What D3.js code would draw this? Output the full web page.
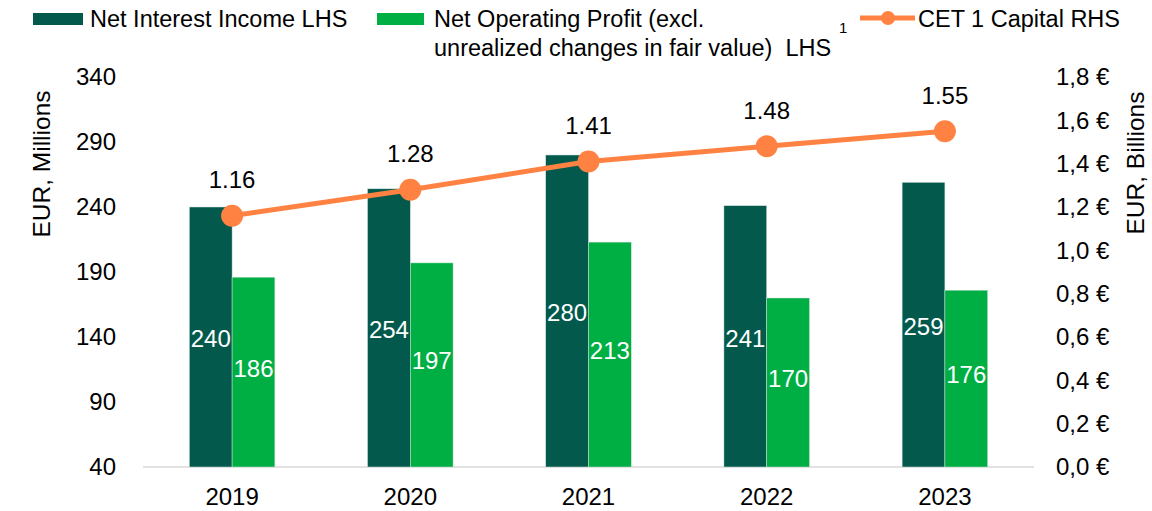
<!DOCTYPE html>
<html>
<head>
<meta charset="utf-8">
<script src="https://cdn.jsdelivr.net/npm/d3@7"></script>
<style>
  body { margin: 0; background: #fff; }
  text { font-family: "Liberation Sans", Arial, sans-serif; fill: #000; }
</style>
</head>
<body>
<svg id="chart" width="1152" height="511"></svg>
<script>
// chart values
var years = ["2019", "2020", "2021", "2022", "2023"];
var netInterest = [240, 254, 280, 241, 259];
var netOperating = [186, 197, 213, 170, 176];
var cet1 = [1.16, 1.28, 1.41, 1.48, 1.55];
var leftTicks = [40, 90, 140, 190, 240, 290, 340];
var rightTicks = [0, 0.2, 0.4, 0.6, 0.8, 1.0, 1.2, 1.4, 1.6, 1.8];

var darkGreen = "#035A4C",
    lightGreen = "#00AF43",
    orange = "#FF8243";

var margin = {top: 77, right: 118, bottom: 44, left: 143},
    width = 1152 - margin.left - margin.right,
    height = 511 - margin.top - margin.bottom;

var svg = d3.select("#chart");
var g = svg.append("g")
    .attr("transform", "translate(" + margin.left + "," + margin.top + ")");

var x = d3.scaleBand()
    .domain(years)
    .range([0, width])
    .paddingInner(0.52)
    .paddingOuter(0.26);

var x1 = d3.scaleBand()
    .domain(["nii", "nop"])
    .range([0, x.bandwidth()]);

var yL = d3.scaleLinear().domain([40, 340]).range([height, 0]);
var yR = d3.scaleLinear().domain([0, 1.8]).range([height, 0]);

// baseline
g.append("line")
    .attr("x1", 0).attr("x2", width)
    .attr("y1", height).attr("y2", height)
    .attr("stroke", "#d9d9d9")
    .attr("stroke-width", 1.5);

// left axis
var leftAxis = d3.axisLeft(yL).tickValues(leftTicks).tickSize(0).tickPadding(27);
g.append("g").call(leftAxis)
    .call(a => a.select(".domain").remove())
    .selectAll("text").style("font-size", "24px");

// right axis
var commaFmt = d => d3.format(".1f")(d).replace(".", ",") + " €";
var rightAxis = d3.axisRight(yR).tickValues(rightTicks).tickSize(0).tickPadding(22).tickFormat(commaFmt);
g.append("g").attr("transform", "translate(" + width + ",0)").call(rightAxis)
    .call(a => a.select(".domain").remove())
    .selectAll("text").style("font-size", "24px");

// bottom axis
var bottomAxis = d3.axisBottom(x).tickSize(0).tickPadding(21);
g.append("g").attr("transform", "translate(0," + height + ")").call(bottomAxis)
    .call(a => a.select(".domain").remove())
    .selectAll("text").style("font-size", "24px");

g.selectAll(".tick text").attr("fill", "#000").style("font-family", "'Liberation Sans', Arial, sans-serif");

// axis titles
svg.append("text")
    .attr("transform", "translate(50,164) rotate(-90)")
    .attr("text-anchor", "middle")
    .style("font-size", "24.5px")
    .text("EUR, Millions");

svg.append("text")
    .attr("transform", "translate(1144,163) rotate(-90)")
    .attr("text-anchor", "middle")
    .style("font-size", "24.5px")
    .text("EUR, Billions");

// bars
var groups = g.selectAll(".year")
    .data(years)
    .enter().append("g")
    .attr("transform", d => "translate(" + x(d) + ",0)");

groups.append("rect")
    .attr("x", x1("nii"))
    .attr("width", x1.bandwidth())
    .attr("y", (d, i) => yL(netInterest[i]))
    .attr("height", (d, i) => height - yL(netInterest[i]))
    .attr("fill", darkGreen)
    .attr("stroke", "#cfe3dc")
    .attr("stroke-width", 0.5);

groups.append("rect")
    .attr("x", x1("nop"))
    .attr("width", x1.bandwidth())
    .attr("y", (d, i) => yL(netOperating[i]))
    .attr("height", (d, i) => height - yL(netOperating[i]))
    .attr("fill", lightGreen)
    .attr("stroke", "#cfe3dc")
    .attr("stroke-width", 0.5);

groups.append("text")
    .attr("x", x1("nii") + x1.bandwidth() / 2)
    .attr("y", (d, i) => (yL(netInterest[i]) + height) / 2 + 2)
    .attr("dy", "0.35em")
    .attr("text-anchor", "middle")
    .style("fill", "#fff")
    .style("font-size", "24px")
    .text((d, i) => netInterest[i]);

groups.append("text")
    .attr("x", x1("nop") + x1.bandwidth() / 2)
    .attr("y", (d, i) => (yL(netOperating[i]) + height) / 2 - 4)
    .attr("dy", "0.35em")
    .attr("text-anchor", "middle")
    .style("fill", "#fff")
    .style("font-size", "24px")
    .text((d, i) => netOperating[i]);

// CET1 line
var cx = d => x(d) + x.bandwidth() / 2;
var line = d3.line()
    .x((d, i) => cx(years[i]))
    .y(d => yR(d));

g.append("path")
    .datum(cet1)
    .attr("fill", "none")
    .attr("stroke", orange)
    .attr("stroke-width", 5)
    .attr("d", line);

g.selectAll(".dot")
    .data(cet1)
    .enter().append("circle")
    .attr("cx", (d, i) => cx(years[i]))
    .attr("cy", d => yR(d))
    .attr("r", 11)
    .attr("fill", orange);

g.selectAll(".cetlabel")
    .data(cet1)
    .enter().append("text")
    .attr("x", (d, i) => cx(years[i]))
    .attr("y", d => yR(d) - 36)
    .attr("dy", "0.35em")
    .attr("text-anchor", "middle")
    .style("font-size", "24px")
    .text(d => d3.format(".2f")(d));

// legend
var legend = svg.append("g");
legend.append("rect").attr("x", 33).attr("y", 13).attr("width", 50).attr("height", 12).attr("fill", darkGreen);
legend.append("text").attr("x", 90).attr("y", 27).style("font-size", "23.5px").text("Net Interest Income LHS");

legend.append("rect").attr("x", 377).attr("y", 13).attr("width", 47).attr("height", 12).attr("fill", lightGreen);
legend.append("text").attr("x", 434).attr("y", 27).style("font-size", "23.5px").text("Net Operating Profit (excl.");
legend.append("text").attr("x", 434).attr("y", 56).style("font-size", "23.5px")
    .attr("xml:space", "preserve").style("white-space", "pre")
    .text("unrealized changes in fair value)  LHS");
legend.append("text").attr("x", 839).attr("y", 33).style("font-size", "15px").text("1");

legend.append("line").attr("x1", 860).attr("x2", 915).attr("y1", 18).attr("y2", 18)
    .attr("stroke", orange).attr("stroke-width", 5);
legend.append("circle").attr("cx", 888).attr("cy", 18).attr("r", 7).attr("fill", orange);
legend.append("text").attr("x", 918).attr("y", 27).style("font-size", "23.5px").text("CET 1 Capital RHS");
</script>
</body>
</html>
